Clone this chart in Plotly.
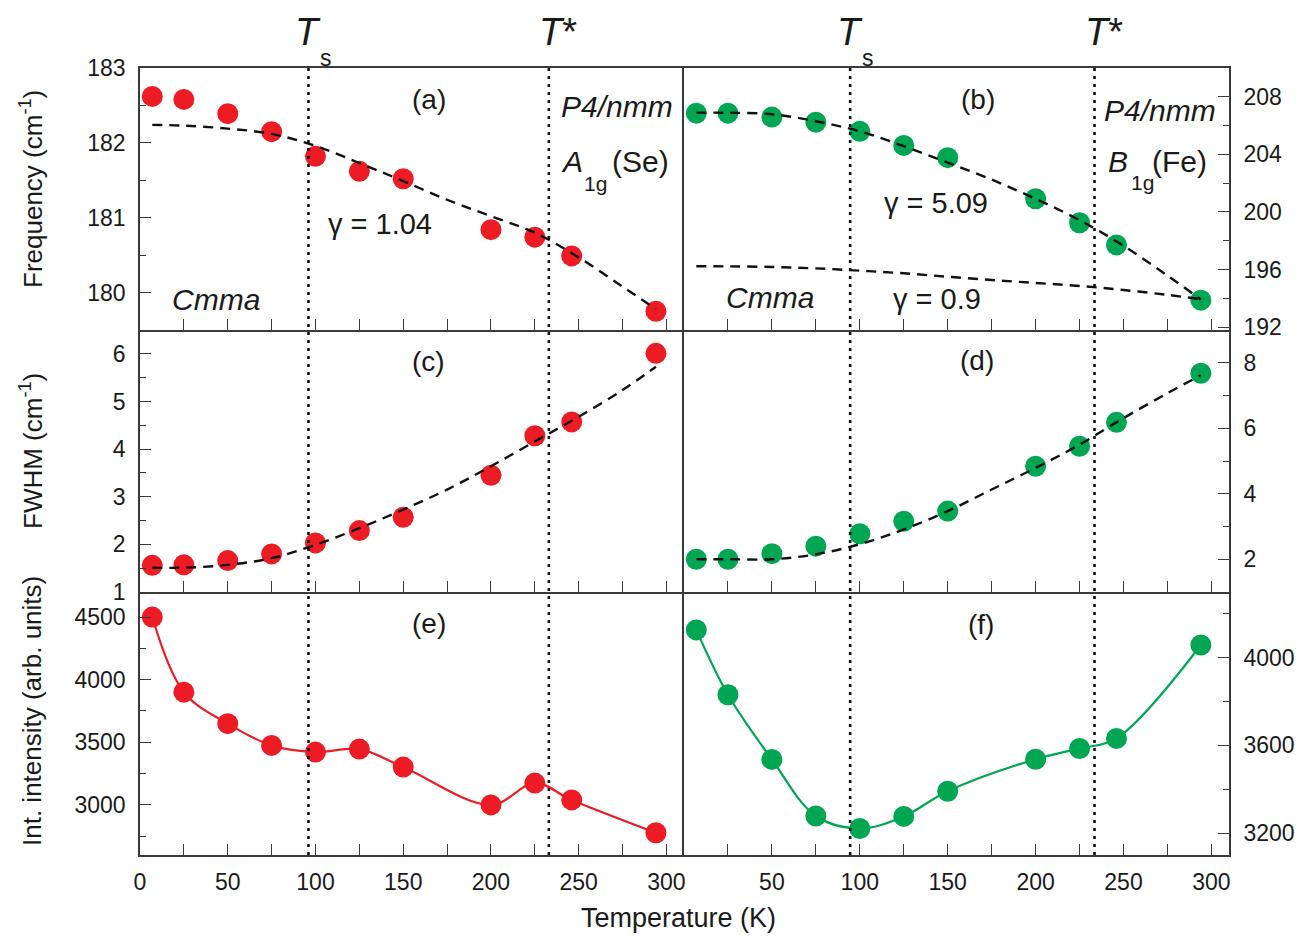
import plotly.graph_objects as go
from plotly.subplots import make_subplots

# ---------------- data ----------------
T = [7, 25, 50, 75, 100, 125, 150, 200, 225, 246, 294]
freq_se = [182.62, 182.58, 182.39, 182.15, 181.82, 181.62, 181.52, 180.84, 180.74, 180.49, 179.75]
freq_fe = [206.86, 206.86, 206.59, 206.24, 205.60, 204.62, 203.77, 200.92, 199.25, 197.71, 193.87]
fwhm_se = [1.56, 1.57, 1.66, 1.80, 2.03, 2.29, 2.57, 3.45, 4.28, 4.57, 6.01]
fwhm_fe = [2.00, 2.00, 2.17, 2.40, 2.78, 3.16, 3.47, 4.84, 5.45, 6.18, 7.68]
int_se = [4500, 3900, 3649, 3475, 3422, 3446, 3302, 3000, 3174, 3040, 2778]
int_fe = [4127, 3831, 3536, 3278, 3221, 3276, 3391, 3537, 3586, 3632, 4058]

T_fit = [7, 25, 50, 75, 100, 125, 150, 175, 200, 225, 250, 275, 294]
fit_freq_se = [182.24, 182.23, 182.19, 182.12, 181.96, 181.73, 181.49, 181.24, 181.02, 180.80, 180.47, 180.08, 179.78]
fit_freq_fe = [206.90, 206.89, 206.79, 206.30, 205.60, 204.57, 203.43, 202.25, 200.91, 199.43, 197.65, 195.58, 193.92]
fit_freq_fe_low = [196.23, 196.22, 196.18, 196.08, 195.92, 195.74, 195.50, 195.27, 195.07, 194.86, 194.58, 194.24, 193.94]
fit_fwhm_se = [1.51, 1.51, 1.57, 1.71, 1.99, 2.34, 2.73, 3.15, 3.64, 4.16, 4.68, 5.24, 5.73]
fit_fwhm_fe = [2.00, 2.00, 2.00, 2.15, 2.46, 2.91, 3.47, 4.13, 4.79, 5.50, 6.31, 7.07, 7.62]

Ts_left, Tstar_left = 96, 233
Ts_right, Tstar_right = 94.5, 233.5

x_ticks = [0, 50, 100, 150, 200, 250, 300]
x_ticks_right = [50, 100, 150, 200, 250, 300]

RED = "#ED1C24"
GREEN = "#00A651"
FRAME = "#3a3a3a"
FONT = "Liberation Sans, Arial, sans-serif"

W, H = 1296, 937

fig = make_subplots(rows=3, cols=2, horizontal_spacing=0, vertical_spacing=0)

def pts(x, y, color, row, col):
    fig.add_trace(go.Scatter(x=x, y=y, mode="markers",
                             marker=dict(size=21, color=color, line=dict(width=0)),
                             showlegend=False), row=row, col=col)

def dashed(x, y, row, col):
    fig.add_trace(go.Scatter(x=x, y=y, mode="lines",
                             line=dict(color="#111111", width=2.4, dash="10px,7px", shape="spline"),
                             showlegend=False), row=row, col=col)

def solid(x, y, color, row, col):
    fig.add_trace(go.Scatter(x=x, y=y, mode="lines",
                             line=dict(color=color, width=2.2, shape="spline", smoothing=1.0),
                             showlegend=False), row=row, col=col)

# (a)
pts(T, freq_se, RED, 1, 1); dashed(T_fit, fit_freq_se, 1, 1)
# (b)
pts(T, freq_fe, GREEN, 1, 2); dashed(T_fit, fit_freq_fe, 1, 2); dashed(T_fit, fit_freq_fe_low, 1, 2)
# (c)
pts(T, fwhm_se, RED, 2, 1); dashed(T_fit, fit_fwhm_se, 2, 1)
# (d)
pts(T, fwhm_fe, GREEN, 2, 2); dashed(T_fit, fit_fwhm_fe, 2, 2)
# (e)
solid(T, int_se, RED, 3, 1); pts(T, int_se, RED, 3, 1)
# (f)
solid(T, int_fe, GREEN, 3, 2); pts(T, int_fe, GREEN, 3, 2)

xL = [140 / W, 684 / W]
xR = [684 / W, 1229 / W]
rows_dom = [[1 - 330 / H, 1 - 68 / H], [1 - 592 / H, 1 - 330 / H], [1 - 855 / H, 1 - 592 / H]]

tickfont = dict(family=FONT, size=23, color="#1a1a1a")

common_x = dict(range=[0, 310], showline=True, linecolor=FRAME, linewidth=1.6,
                ticks="inside", ticklen=11, tickwidth=1.4, tickcolor=FRAME, automargin=False,
                showgrid=False, zeroline=False, tickfont=tickfont, ticklabelstandoff=6,
                minor=dict(dtick=25, tick0=0, ticks="inside", ticklen=11, tickwidth=1.4, tickcolor=FRAME))
common_y = dict(showline=True, linecolor=FRAME, linewidth=1.6, automargin=False,
                ticks="inside", ticklen=11, tickwidth=1.4, tickcolor=FRAME,
                showgrid=False, zeroline=False, tickfont=tickfont, ticklabelstandoff=8)

y_specs = [
    dict(range=[179.5, 183], tickvals=[180, 181, 182, 183], minor=[179.5, 180.5, 181.5, 182.5]),
    dict(range=[191.8, 210], tickvals=[192, 196, 200, 204, 208], minor=[194, 198, 202, 206]),
    dict(range=[1, 6.5], tickvals=[1, 2, 3, 4, 5, 6], minor=[1.5, 2.5, 3.5, 4.5, 5.5]),
    dict(range=[1, 9], tickvals=[2, 4, 6, 8], minor=[3, 5, 7]),
    dict(range=[2600, 4700], tickvals=[3000, 3500, 4000, 4500], minor=[2750, 3250, 3750, 4250]),
    dict(range=[3100, 4300], tickvals=[3200, 3600, 4000], minor=[3400, 3800, 4200]),
]

for i in range(6):
    r, c = i // 2, i % 2
    xa = dict(common_x)
    xa["domain"] = xL if c == 0 else xR
    xa["showticklabels"] = (r == 2)
    xa["tickmode"] = "array"
    xa["tickvals"] = x_ticks if c == 0 else x_ticks_right
    xa["mirror"] = (r == 0)          # top frame line only for the top row
    ya = dict(common_y)
    spec = y_specs[i]
    ya["domain"] = rows_dom[r]
    ya["range"] = spec["range"]
    ya["tickmode"] = "array"
    ya["tickvals"] = spec["tickvals"]
    ya["minor"] = dict(tickmode="array", tickvals=spec["minor"], ticks="inside",
                       ticklen=6, tickwidth=1.4, tickcolor=FRAME)
    ya["side"] = "left" if c == 0 else "right"
    ya["mirror"] = (c == 1)          # shared middle line drawn once, by the right column
    suffix = "" if i == 0 else str(i + 1)
    fig.layout["xaxis" + suffix].update(xa)
    fig.layout["yaxis" + suffix].update(ya)

# vertical dotted lines (span all three rows)
y0p, y1p = rows_dom[2][0], rows_dom[0][1]
for xv, xref in [(Ts_left, "x"), (Tstar_left, "x"), (Ts_right, "x2"), (Tstar_right, "x2")]:
    fig.add_shape(type="line", xref=xref, yref="paper", x0=xv, x1=xv, y0=y0p, y1=y1p,
                  line=dict(color="#111111", width=2.6, dash="3px,5px"))

ann = []

def A(text, x, y, size=30, xanchor="center", yanchor="middle", angle=0, xref="paper", xshift=0):
    ann.append(dict(text=text, x=(x / W if xref == "paper" else x), y=1 - y / H,
                    xref=xref, yref="paper", xanchor=xanchor, yanchor=yanchor,
                    showarrow=False, textangle=angle, xshift=xshift,
                    font=dict(family=FONT, size=size, color="#1a1a1a")))

# T labels above the plot
A("<i>T</i>", Ts_left, 32, size=38, xref="x")
A("s", Ts_left, 58, size=23, xref="x", xshift=18)
A("<i>T</i>*", Tstar_left, 32, size=38, xref="x", xanchor="left", xshift=-12)
A("<i>T</i>", Ts_right, 32, size=38, xref="x2")
A("s", Ts_right, 58, size=23, xref="x2", xshift=18)
A("<i>T</i>*", Tstar_right, 32, size=38, xref="x2", xanchor="left", xshift=-12)

# panel labels
A("(a)", 429, 100, size=28)
A("(b)", 978, 99, size=28)
A("(c)", 428, 361.5, size=28)
A("(d)", 977, 360, size=28)
A("(e)", 429, 623, size=28)
A("(f)", 981, 624.5, size=28)

# left top annotations
A("<i>P4/nmm</i>", 559, 106.5, size=30, xanchor="left")
A("<i>A</i>", 559, 161.5, size=30, xanchor="left")
A("1g", 582, 184, size=21, xanchor="left")
A("(Se)", 610, 162, size=30, xanchor="left")
A("γ = 1.04", 326, 223.5, size=29, xanchor="left")
A("<i>Cmma</i>", 170, 299, size=30, xanchor="left")

# right top annotations
A("<i>P4/nmm</i>", 1102, 110, size=30, xanchor="left")
A("<i>B</i>", 1106, 161.5, size=30, xanchor="left")
A("1g", 1129, 182, size=21, xanchor="left")
A("(Fe)", 1150, 162, size=30, xanchor="left")
A("γ = 5.09", 882, 203.5, size=29, xanchor="left")
A("<i>Cmma</i>", 724, 297, size=30, xanchor="left")
A("γ = 0.9", 891, 299, size=29, xanchor="left")

# axis titles
A("Temperature (K)", 678, 918, size=27)
A("Frequency (cm<sup>-1</sup>)", 32, 189, size=26, angle=-90)
A("FWHM (cm<sup>-1</sup>)", 32, 451, size=26, angle=-90)
A("Int. intensity (arb. units)", 32, 711, size=26, angle=-90)

fig.update_layout(template="none", width=W, height=H, margin=dict(l=0, r=0, t=0, b=0, pad=0),
                  paper_bgcolor="white", plot_bgcolor="white",
                  annotations=ann, showlegend=False,
                  font=dict(family=FONT, color="#1a1a1a"))

fig.write_html("out.html")
